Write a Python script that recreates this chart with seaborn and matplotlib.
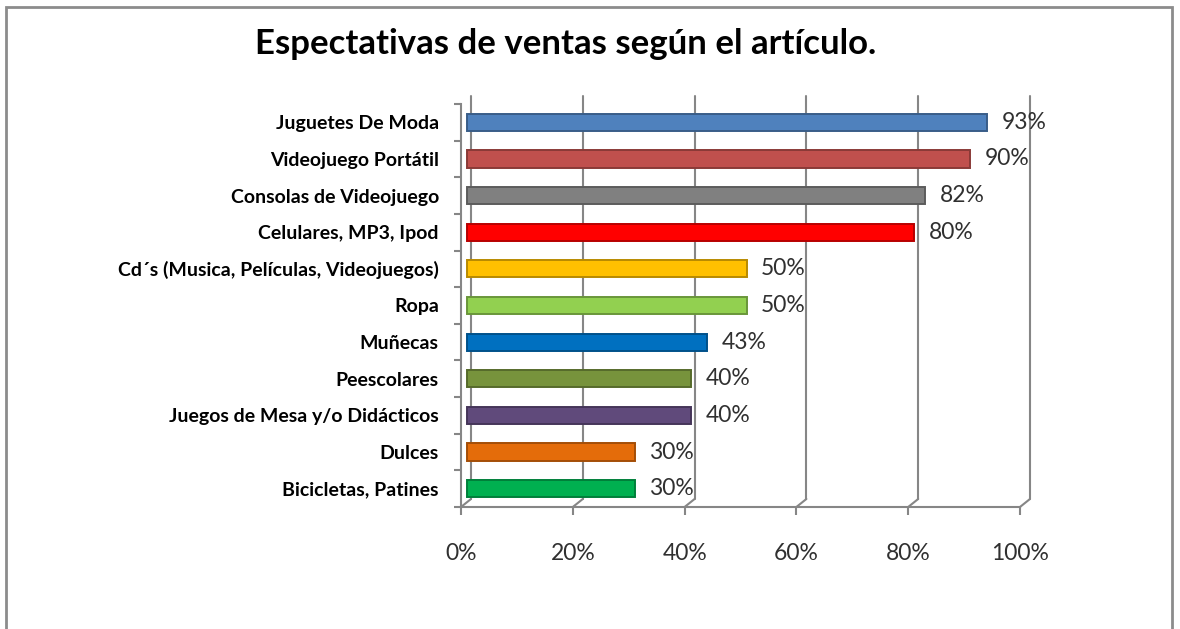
import matplotlib
matplotlib.use("Agg")
import matplotlib.pyplot as plt
import matplotlib.transforms as mtransforms
import seaborn as sns
import pandas as pd
import numpy as np
from matplotlib.patches import Rectangle, ConnectionPatch

categories = ["Juguetes De Moda", "Videojuego Portátil", "Consolas de Videojuego",
              "Celulares, MP3, Ipod", "Cd´s (Musica, Películas, Videojuegos)", "Ropa",
              "Muñecas", "Peescolares", "Juegos de Mesa y/o Didácticos", "Dulces",
              "Bicicletas, Patines"]
values = [93, 90, 82, 80, 50, 50, 43, 40, 40, 30, 30]
colors = ["#4F81BD", "#C0504D", "#808080", "#FF0000", "#FFC000", "#92D050",
          "#0070C0", "#77933C", "#604A7B", "#E46C0A", "#00B050"]
xticks = [0, 20, 40, 60, 80, 100]
xtick_labels = ["0%", "20%", "40%", "60%", "80%", "100%"]

sns.set_theme(style="white")
plt.rcParams['font.family'] = ['Lato', 'DejaVu Sans']

df = pd.DataFrame({"cat": categories, "val": values})

fig = plt.figure(figsize=(11.8, 6.29), dpi=100)
ax = fig.add_axes([0.3907, 0.194, 0.4737, 0.6407])

sns.barplot(data=df, x="val", y="cat", hue="cat", palette=colors, legend=False,
            width=0.47, orient="h", ax=ax, saturation=1)

bar_shift = mtransforms.ScaledTranslation(6 / 100, 0, fig.dpi_scale_trans)
for p, c in zip(ax.patches, colors):
    p.set_edgecolor(tuple(np.clip(np.array(matplotlib.colors.to_rgb(c)) * 0.72, 0, 1)))
    p.set_linewidth(1.4)
    p.set_transform(ax.transData + bar_shift)

ax.set_xlim(0, 100)
ax.set_ylim(len(categories) - 0.5, -0.5)
ax.set_xticks(xticks)
ax.set_xticklabels(xtick_labels, fontsize=16.5, color="#303030")
ax.tick_params(axis="x", pad=20, length=6, width=1.5, color="#868686", bottom=True)
ax.set_yticks(range(len(categories)))
ax.set_yticklabels(categories, fontsize=14, fontweight="bold", color="black")
ax.tick_params(axis="y", length=0, pad=16)
ax.set_yticks(np.arange(-0.5, len(categories), 1), minor=True)
ax.tick_params(axis="y", which="minor", length=5, width=1.5, color="#868686", left=True)
ax.set_xlabel("")
ax.set_ylabel("")

# back-wall gridlines (offset for the 3D look)
wall = mtransforms.ScaledTranslation(10 / 100, 8 / 100, fig.dpi_scale_trans)
ax.xaxis.grid(True, color="#868686", linewidth=1.5)
for gl in ax.get_xgridlines():
    gl.set_transform(gl.get_transform() + wall)
    gl.set_clip_on(False)
ax.set_axisbelow(True)
floor = ax.get_xaxis_transform()
for xv in xticks:
    con = ConnectionPatch(xyA=(xv, 0), coordsA=floor, xyB=(xv, 0), coordsB=floor + wall,
                          color="#868686", linewidth=1.5, zorder=0.5)
    ax.add_artist(con)

for s in ["top", "right"]:
    ax.spines[s].set_visible(False)
for s in ["left", "bottom"]:
    ax.spines[s].set_color("#868686")
    ax.spines[s].set_linewidth(1.5)

for i, v in enumerate(values):
    ax.text(v + 3.7, i, f"{v}%", va="center", ha="left", fontsize=16.5, color="#303030")

fig.text(0.479, 0.93, "Espectativas de ventas según el artículo.", ha="center", va="center",
         fontsize=25, fontweight="bold", color="black")

fig.patches.append(Rectangle((6 / 1180, -0.1), (1172 - 6) / 1180, 1.1 - 7 / 629,
                             transform=fig.transFigure, fill=False,
                             edgecolor="#8C8C8C", linewidth=2))

fig.savefig("out.png", dpi=100)
